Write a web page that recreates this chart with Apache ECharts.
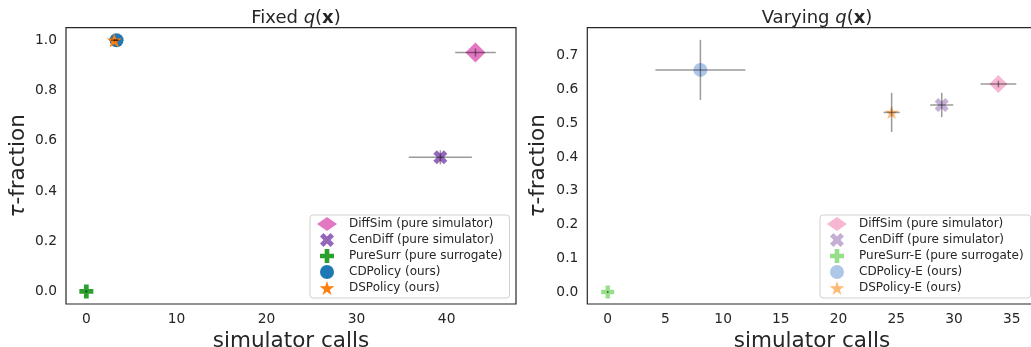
<!DOCTYPE html>
<html>
<head>
<meta charset="utf-8">
<script src="https://cdn.jsdelivr.net/npm/echarts@6/dist/echarts.min.js"></script>
<style>html,body{margin:0;padding:0;background:#fff;}#c{width:1031px;height:347px;}</style>
</head>
<body>
<div id="c"></div>
<script>
// ---- data (left panel: Fixed q(x)) ----
const leftNames = ['DiffSim (pure simulator)', 'CenDiff (pure simulator)', 'PureSurr (pure surrogate)', 'CDPolicy (ours)', 'DSPolicy (ours)'];
const leftX = [43.2, 39.3, 0, 3.35, 3.1];
const leftY = [0.951, 0.534, 0.0, 1.0, 1.0];
const leftXErr = [2.25, 3.5, 0.1, 0.3, 0.4];
const leftYErr = [0.016, 0.028, 0.004, 0.004, 0.005];
// ---- data (right panel: Varying q(x)) ----
const rightNames = ['DiffSim (pure simulator)', 'CenDiff (pure simulator)', 'PureSurr-E (pure surrogate)', 'CDPolicy-E (ours)', 'DSPolicy-E (ours)'];
const rightX = [33.85, 28.94, 0, 8.03, 24.6];
const rightY = [0.616, 0.554, 0.0, 0.658, 0.532];
const rightXErr = [1.55, 1.0, 0.05, 3.9, 0.7];
const rightYErr = [0.01, 0.036, 0.003, 0.089, 0.058];
// ---- tick labels ----
const leftXTicks = [0, 10, 20, 30, 40];
const leftYTicks = [0.0, 0.2, 0.4, 0.6, 0.8, 1.0];
const rightXTicks = [0, 5, 10, 15, 20, 25, 30, 35];
const rightYTicks = [0.0, 0.1, 0.2, 0.3, 0.4, 0.5, 0.6, 0.7];

const FONT = 'DejaVu Sans';
const TXT = '#262626';
const leftColors = ['#e377c2', '#9467bd', '#2ca02c', '#1f77b4', '#ff7f0e'];
const rightColors = ['#f7b6d2', '#c5b0d5', '#98df8a', '#aec7e8', '#ffbb78'];
const STAR = 'path://M50,0L61.2,34.5L97.6,34.5L68.2,55.9L79.4,90.5L50,69.1L20.6,90.5L31.8,55.9L2.4,34.5L38.8,34.5Z';
const PLUS = 'path://M2,0L4,0L4,2L6,2L6,4L4,4L4,6L2,6L2,4L0,4L0,2L2,2Z';
const XMARK = 'path://M4.243,0L5.657,1.414L4.243,2.828L5.657,4.243L4.243,5.657L2.828,4.243L1.414,5.657L0,4.243L1.414,2.828L0,1.414L1.414,0L2.828,1.414Z';
const symbols = ['diamond', XMARK, PLUS, 'circle', STAR];
const leftSizes = [20, 14, 14, 14, 15];
const rightSizes = [18, 14, 13, 14, 14];

const chart = echarts.init(document.getElementById('c'), null, {renderer: 'canvas'});

function titleCfg(word, centerX) {
  return {
    text: '{n|' + word + ' }{i|q}{n|(}{b|x}{n|)}',
    left: centerX, top: 4, textAlign: 'center',
    textStyle: {
      rich: {
        n: {fontFamily: FONT, fontSize: 18, color: TXT, fontWeight: 'normal'},
        i: {fontFamily: FONT, fontSize: 18, color: TXT, fontStyle: 'italic', fontWeight: 'normal'},
        b: {fontFamily: FONT, fontSize: 18, color: TXT, fontWeight: 'bold'}
      }
    }
  };
}

function xAxisCfg(idx, min, max, ticks) {
  return {
    type: 'value', gridIndex: idx, min: min, max: max,
    name: 'simulator calls', nameLocation: 'middle', nameGap: 21,
    nameTextStyle: {fontFamily: FONT, fontSize: 21.5, color: TXT},
    axisLine: {show: false}, axisTick: {show: false}, splitLine: {show: false},
    axisLabel: {customValues: ticks, fontFamily: FONT, fontSize: 13.8, color: TXT, margin: 8,
      formatter: v => String(Math.round(v))}
  };
}
function yAxisCfg(idx, min, max, ticks, gap) {
  return {
    type: 'value', gridIndex: idx, min: min, max: max,
    name: '{i|τ}{n|-fraction}', nameLocation: 'middle', nameGap: gap,
    nameTextStyle: {
      rich: {
        i: {fontFamily: FONT, fontSize: 21.5, color: TXT, fontStyle: 'italic'},
        n: {fontFamily: FONT, fontSize: 21.5, color: TXT}
      }
    },
    axisLine: {show: false}, axisTick: {show: false}, splitLine: {show: false},
    axisLabel: {customValues: ticks, fontFamily: FONT, fontSize: 13.8, color: TXT, margin: 9,
      formatter: v => v.toFixed(1)}
  };
}

function buildSeries(prefix, names, xs, ys, xe, ye, colors, sizes, idx) {
  const out = [];
  names.forEach((n, i) => {
    out.push({
      type: 'scatter', name: prefix + n, xAxisIndex: idx, yAxisIndex: idx,
      symbol: symbols[i], symbolSize: sizes[i], symbolKeepAspect: true,
      itemStyle: {color: colors[i], opacity: 1},
      data: [[xs[i], ys[i]]], z: 2, animation: false
    });
  });
  out.push({
    type: 'custom', xAxisIndex: idx, yAxisIndex: idx, z: 3, animation: false, silent: true,
    data: names.map((n, i) => [xs[i], ys[i], xe[i], ye[i]]),
    encode: {x: 0, y: 1},
    renderItem: function (params, api) {
      const x = api.value(0), y = api.value(1), dx = api.value(2), dy = api.value(3);
      const a = api.coord([x - dx, y]), b = api.coord([x + dx, y]);
      const c = api.coord([x, y - dy]), d = api.coord([x, y + dy]);
      const st = {stroke: 'rgba(0,0,0,0.4)', lineWidth: 1.5};
      return {
        type: 'group',
        children: [
          {type: 'line', shape: {x1: a[0], y1: a[1], x2: b[0], y2: b[1]}, style: st},
          {type: 'line', shape: {x1: c[0], y1: c[1], x2: d[0], y2: d[1]}, style: st}
        ]
      };
    }
  });
  return out;
}

function legendCfg(prefix, names, left) {
  return {
    orient: 'vertical', left: left, top: 215,
    data: names.map(n => prefix + n),
    formatter: name => name.slice(prefix.length),
    itemWidth: 20, itemHeight: 14, itemGap: 2,
    padding: [2, 7, 3, 7],
    borderColor: '#d0d0d0', borderWidth: 1, borderRadius: 3,
    backgroundColor: 'rgba(255,255,255,0.8)',
    selectedMode: false,
    textStyle: {fontFamily: FONT, fontSize: 12, color: TXT, padding: [0, 0, 0, 7]}
  };
}

const gridBase = {top: 27.7, height: 276.3, show: true, borderColor: '#262626', borderWidth: 1.2,
  backgroundColor: 'transparent', containLabel: false, outerBoundsMode: 'none'};

const option = {
  backgroundColor: '#fff',
  animation: false,
  title: [titleCfg('Fixed', 291), titleCfg('Varying', 812)],
  grid: [
    Object.assign({left: 66, width: 450}, gridBase),
    Object.assign({left: 587.3, width: 449.4}, gridBase)
  ],
  xAxis: [xAxisCfg(0, -2.26, 47.7, leftXTicks), xAxisCfg(1, -1.77, 37.17, rightXTicks)],
  yAxis: [yAxisCfg(0, -0.05, 1.05, leftYTicks, 37), yAxisCfg(1, -0.0355, 0.783, rightYTicks, 38)],
  legend: [legendCfg('', leftNames, 310), legendCfg('R|', rightNames, 820)],
  series: [].concat(
    buildSeries('', leftNames, leftX, leftY, leftXErr, leftYErr, leftColors, leftSizes, 0),
    buildSeries('R|', rightNames, rightX, rightY, rightXErr, rightYErr, rightColors, rightSizes, 1)
  )
};
chart.setOption(option);
</script>
</body>
</html>
